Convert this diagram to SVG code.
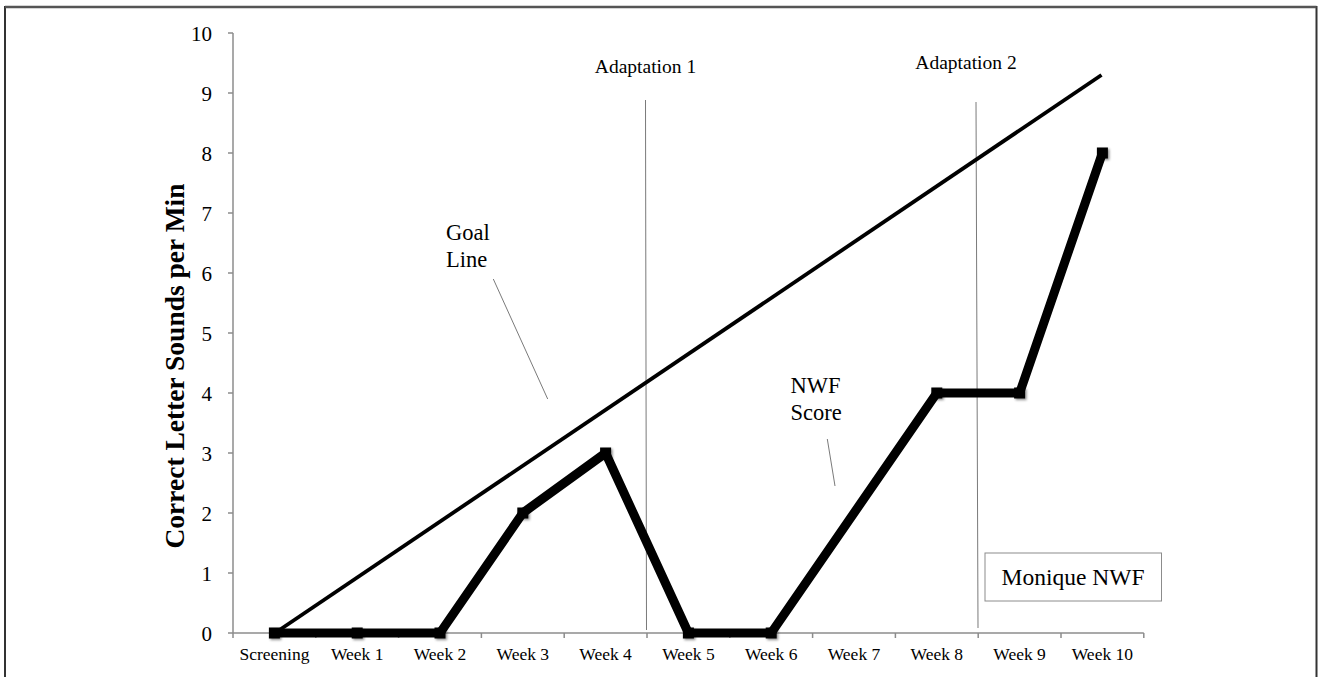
<svg xmlns="http://www.w3.org/2000/svg" width="1318" height="677" viewBox="0 0 1318 677">
<style>
.t{font-family:'Liberation Serif',serif;fill:#000}
.num{font-size:21px;text-anchor:end}
.cat{font-size:17.5px;text-anchor:middle}
.ann{font-size:22.5px}
.adp{font-size:19.5px;text-anchor:middle}
.ax{stroke:#8c8c8c;stroke-width:1.5;fill:none}
.thin{stroke:#7a7a7a;stroke-width:1;fill:none}
.mk{fill:#000}
</style>
<defs>
<filter id="sh" x="-50%" y="-50%" width="200%" height="200%">
<feDropShadow dx="1.5" dy="1.5" stdDeviation="1.2" flood-color="#000" flood-opacity="0.45"/>
</filter>
</defs>
<rect x="0" y="0" width="1318" height="677" fill="#fff"/>
<path d="M5,690 L5,7 L1316.5,7 L1316.5,690" fill="none" stroke="#333" stroke-width="2"/>
<line x1="5" y1="7" x2="1316.5" y2="7" stroke="#555" stroke-width="2.5"/>

<g id="axes">
<line class="ax" x1="233" y1="33" x2="233" y2="633"/>
<line class="ax" x1="233" y1="633" x2="1143.8" y2="633"/>
<path class="ax" d="M228,33H233M228,93H233M228,153H233M228,213H233M228,273H233M228,333H233M228,393H233M228,453H233M228,513H233M228,573H233M228,633H233"/>
<path class="ax" d="M233,633V638M315.8,633V638M398.6,633V638M481.4,633V638M564.2,633V638M647,633V638M729.8,633V638M812.6,633V638M895.4,633V638M978.2,633V638M1061,633V638M1143.8,633V638"/>
</g>

<g id="y-labels">
<text class="t num" font-family="Liberation Serif" x="212" y="41">10</text>
<text class="t num" font-family="Liberation Serif" x="212" y="101">9</text>
<text class="t num" font-family="Liberation Serif" x="212" y="161">8</text>
<text class="t num" font-family="Liberation Serif" x="212" y="221">7</text>
<text class="t num" font-family="Liberation Serif" x="212" y="281">6</text>
<text class="t num" font-family="Liberation Serif" x="212" y="341">5</text>
<text class="t num" font-family="Liberation Serif" x="212" y="401">4</text>
<text class="t num" font-family="Liberation Serif" x="212" y="461">3</text>
<text class="t num" font-family="Liberation Serif" x="212" y="521">2</text>
<text class="t num" font-family="Liberation Serif" x="212" y="581">1</text>
<text class="t num" font-family="Liberation Serif" x="212" y="641">0</text>
</g>
<text id="y-title" class="t" transform="translate(184,366) rotate(-90)" text-anchor="middle" font-family="Liberation Serif" font-size="27.5" font-weight="bold">Correct Letter Sounds per Min</text>

<g id="x-labels">
<text class="t cat" font-family="Liberation Serif" x="274.4" y="660">Screening</text>
<text class="t cat" font-family="Liberation Serif" x="357.2" y="660">Week 1</text>
<text class="t cat" font-family="Liberation Serif" x="440" y="660">Week 2</text>
<text class="t cat" font-family="Liberation Serif" x="522.8" y="660">Week 3</text>
<text class="t cat" font-family="Liberation Serif" x="605.6" y="660">Week 4</text>
<text class="t cat" font-family="Liberation Serif" x="688.4" y="660">Week 5</text>
<text class="t cat" font-family="Liberation Serif" x="771.2" y="660">Week 6</text>
<text class="t cat" font-family="Liberation Serif" x="854" y="660">Week 7</text>
<text class="t cat" font-family="Liberation Serif" x="936.8" y="660">Week 8</text>
<text class="t cat" font-family="Liberation Serif" x="1019.6" y="660">Week 9</text>
<text class="t cat" font-family="Liberation Serif" x="1102.4" y="660">Week 10</text>
</g>

<g id="connectors">
<line class="thin" x1="645.5" y1="100" x2="646.5" y2="630"/>
<line class="thin" x1="976" y1="102" x2="978" y2="628"/>
<line class="thin" x1="493.3" y1="279" x2="547.7" y2="399"/>
<line class="thin" x1="827.3" y1="439" x2="835" y2="486"/>
<line id="goal-line" x1="275" y1="633" x2="1101.5" y2="75" stroke="#000" stroke-width="3.8"/>
<polyline id="nwf-line" points="274.4,633 357.2,633 440,633 522.8,513 605.6,453 688.4,633 771.2,633 936.8,393 1019.6,393 1102.4,153" fill="none" stroke="#000" stroke-width="9" stroke-linejoin="round"/>
</g>

<g id="markers" filter="url(#sh)">
<rect class="mk" x="268.9" y="627.5" width="11" height="11"/>
<rect class="mk" x="351.7" y="627.5" width="11" height="11"/>
<rect class="mk" x="434.5" y="627.5" width="11" height="11"/>
<rect class="mk" x="517.3" y="507.5" width="11" height="11"/>
<rect class="mk" x="600.1" y="447.5" width="11" height="11"/>
<rect class="mk" x="682.9" y="627.5" width="11" height="11"/>
<rect class="mk" x="765.7" y="627.5" width="11" height="11"/>
<rect class="mk" x="931.3" y="387.5" width="11" height="11"/>
<rect class="mk" x="1014.1" y="387.5" width="11" height="11"/>
<rect class="mk" x="1096.9" y="147.5" width="11" height="11"/>
</g>

<g id="adaptation-1"><text class="t adp" font-family="Liberation Serif" x="645.5" y="73">Adaptation 1</text></g>
<g id="adaptation-2"><text class="t adp" font-family="Liberation Serif" x="966" y="69">Adaptation 2</text></g>
<g id="goal-label"><text class="t ann" font-family="Liberation Serif" x="446" y="240">Goal</text><text class="t ann" font-family="Liberation Serif" x="446" y="267">Line</text></g>
<g id="nwf-label"><text class="t ann" font-family="Liberation Serif" x="790.5" y="393">NWF</text><text class="t ann" font-family="Liberation Serif" x="790.5" y="420">Score</text></g>
<g id="legend">
<rect x="985" y="553" width="176.5" height="48" fill="#fff" stroke="#8c8c8c" stroke-width="1"/>
<text class="t" font-family="Liberation Serif" x="1073" y="585" text-anchor="middle" font-size="23.5">Monique NWF</text>
</g>
</svg>
